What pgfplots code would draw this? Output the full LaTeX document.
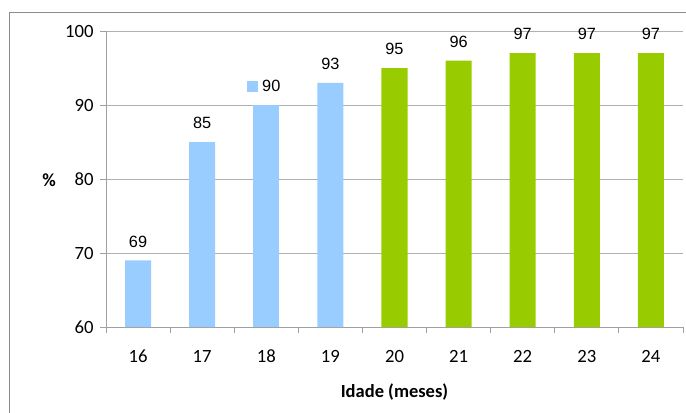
\documentclass[border=0pt]{standalone}
\usepackage{pgfplots}
\pgfplotsset{compat=1.18}
\usepackage{fontspec}
\setmainfont{Carlito}
\newfontfamily\arialfont{Liberation Sans}

\definecolor{barblue}{HTML}{99CCFF}
\definecolor{bargreen}{HTML}{99CC00}
\definecolor{gridgray}{HTML}{B0B0B0}
\definecolor{axisgray}{HTML}{A0A0A0}
\definecolor{framegray}{HTML}{8C8C8C}

\begin{document}
\begin{tikzpicture}
% page area
\useasboundingbox (-106bp,-86bp) rectangle (580bp,327bp);
% outer chart frame
\draw[framegray, line width=1bp] (-96bp,-100bp) -- (-96bp,314bp) -- (600bp,314bp);
\begin{axis}[
  at={(0,0)}, anchor=south west,
  scale only axis,
  width=577bp, height=296bp,
  xmin=15.5, xmax=24.5,
  ymin=60, ymax=100,
  ytick={60,70,80,90,100},
  xtick={16,...,24},
  minor xtick={15.5,16.5,...,24.5},
  axis lines*=left,
  axis line style={axisgray, line width=0.9bp},
  ymajorgrids,
  major grid style={gridgray, line width=0.9bp},
  tick align=outside,
  xtick pos=bottom, ytick pos=left,
  major tick length=6bp,
  x tick style={draw=none},
  minor x tick style={draw=axisgray, line width=0.9bp},
  minor tick length=6bp,
  y tick style={axisgray, line width=0.9bp},
  /pgf/number format/assume math mode=true,
  tick label style={font=\fontsize{18.7bp}{22bp}\selectfont, text=black},
  xticklabel style={anchor=center, yshift=-23bp},
  yticklabel style={xshift=-3bp},
  xlabel={\textbf{Idade (meses)}},
  xlabel style={at={(axis description cs:0.5,0)}, anchor=base, yshift=-70.5bp,
    font=\fontsize{18.5bp}{22bp}\selectfont},
  ylabel={\textbf{\%}},
  ylabel style={rotate=-90, at={(axis description cs:0,0)}, anchor=base,
    xshift=-57bp, yshift=140.5bp, font=\fontsize{18.5bp}{22bp}\selectfont},
  ybar, bar width=26bp, bar shift=0pt,
  nodes near coords,
  nodes near coords style={font=\arialfont\fontsize{16.3bp}{19bp}\selectfont,
    text=black, anchor=center, yshift=19bp},
  clip=false,
]
% 16 to 19 months
\addplot[fill=barblue, draw=none] coordinates {(16,69) (17,85) (19,93)};
% 18 months, its label carries the series key
\addplot[fill=barblue, draw=none,
  nodes near coords={\textcolor{barblue}{\rule{11bp}{11bp}}\hspace{4bp}\pgfmathprintnumber{\pgfplotspointmeta}},
  nodes near coords style={xshift=-2.5bp}]
  coordinates {(18,90)};
% 20 to 24 months
\addplot[fill=bargreen, draw=none] coordinates {(20,95) (21,96) (22,97) (23,97) (24,97)};
\end{axis}
\end{tikzpicture}
\end{document}
